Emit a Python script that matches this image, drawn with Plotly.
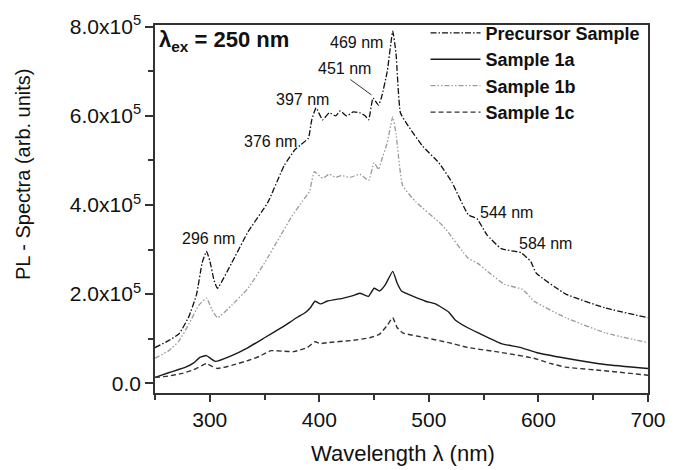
import plotly.graph_objects as go

# ---- data ----
wl_pre = [250, 262, 272, 281, 288, 293, 297, 300, 304, 307, 320, 335, 353, 368, 378, 383, 390, 393, 397,
          403, 409, 415, 419, 425, 431, 437, 442, 445, 449, 454, 457, 462, 467, 470, 474, 481, 494, 509,
          521, 536, 544, 553, 566, 584, 593, 598, 625, 661, 700]
pl_pre = [80000, 95000, 111000, 150000, 200000, 270000, 296000, 275000, 230000, 213000, 270000, 340000,
          406000, 489000, 525000, 535000, 550000, 590000, 618000, 591000, 607000, 600000, 611000, 600000,
          609000, 607000, 600000, 591000, 640000, 624000, 644000, 700000, 790000, 740000, 607000, 578000,
          533000, 495000, 451000, 378000, 369000, 333000, 302000, 293000, 273000, 247000, 200000, 169000,
          147000]

wl_1a = [250, 263, 278, 285, 291, 297, 301, 305, 320, 335, 350, 365, 380, 387, 392, 396, 401, 407, 422,
         430, 437, 441, 445, 450, 455, 460, 467, 471, 475, 497, 506, 518, 524, 535, 545, 566, 584, 598,
         625, 661, 700]
pl_1a = [13000, 24000, 36000, 45000, 58000, 62000, 55000, 49000, 62000, 80000, 102000, 124000, 148000,
         158000, 170000, 184000, 178000, 184000, 191000, 196000, 202000, 198000, 195000, 213000, 207000,
         220000, 251000, 225000, 207000, 184000, 178000, 160000, 142000, 125000, 113000, 89000, 80000,
         69000, 56000, 42000, 33000]

wl_1b = [250, 262, 272, 281, 290, 297, 302, 307, 320, 335, 350, 365, 375, 385, 391, 395.5, 403, 409,
         415, 420, 428, 437, 445, 450, 454, 457, 462, 467, 470, 476, 488, 509, 515, 536, 544.6, 553.6,
         569, 585, 590, 596, 625, 661, 700]
pl_1b = [56000, 72000, 95000, 133000, 175000, 191000, 165000, 147000, 175000, 213000, 270000, 333000,
         375000, 410000, 430000, 475000, 460000, 469000, 462000, 466000, 462000, 469000, 455000, 495000,
         480000, 502000, 540000, 598000, 560000, 444000, 407000, 362000, 347000, 280000, 269000, 251000,
         222000, 211000, 200000, 184000, 147000, 113000, 91000]

wl_1c = [250, 262, 275, 285, 297, 302, 307, 320, 335, 345, 356, 366, 377, 389, 396, 401, 407, 430, 446,
         455, 462, 467, 471, 476, 497, 518, 536, 566, 596, 610, 625, 660, 700]
pl_1c = [13000, 16000, 22000, 30000, 44000, 38000, 33000, 40000, 51000, 60000, 73000, 72000, 71000,
         80000, 93000, 89000, 91000, 96000, 102000, 110000, 130000, 147000, 125000, 113000, 102000, 91000,
         80000, 69000, 56000, 45000, 36000, 28000, 18000]

series_names = ["Precursor Sample", "Sample 1a", "Sample 1b", "Sample 1c"]

y_tickvals = [0, 200000, 400000, 600000, 800000]
y_ticktext = ["0.0", "2.0x10<sup>5</sup>", "4.0x10<sup>5</sup>", "6.0x10<sup>5</sup>", "8.0x10<sup>5</sup>"]
x_tickvals = [300, 400, 500, 600, 700]

peak_labels = ["296 nm", "376 nm", "397 nm", "451 nm", "469 nm", "544 nm", "584 nm"]
peak_label_x = [299, 355, 385, 423, 434, 570.5, 606.5]
peak_label_y = [325000, 543000, 637000, 707000, 764000, 384000, 313000]

FONT = "Liberation Sans, Arial, sans-serif"

fig = go.Figure()
styles = [
    dict(color="#111111", width=1.3, dash="6px,2px,1.5px,2px"),
    dict(color="#1a1a1a", width=1.4, dash="solid"),
    dict(color="#9a9a9a", width=1.3, dash="5px,2px,1.5px,2px,1.5px,2px"),
    dict(color="#333333", width=1.4, dash="5px,3px"),
]
data = [(wl_pre, pl_pre), (wl_1a, pl_1a), (wl_1b, pl_1b), (wl_1c, pl_1c)]
for i, ((x, y), name) in enumerate(zip(data, series_names)):
    fig.add_trace(go.Scatter(x=x, y=y, mode="lines", name=name,
                             line=dict(shape="spline", smoothing=0.4, **styles[i])))

for t, x, y in zip(peak_labels, peak_label_x, peak_label_y):
    fig.add_annotation(x=x, y=y, text=t, showarrow=False,
                       font=dict(family=FONT, size=16, color="#111"))
# leader line for 451 nm
fig.add_annotation(x=447.6, y=647000, ax=427, ay=684000, axref="x", ayref="y",
                   text="", showarrow=True, arrowhead=0, arrowwidth=1, arrowcolor="#333")

fig.add_annotation(xref="paper", yref="paper", x=0.004, y=1.0, xanchor="left", yanchor="top",
                   text="<b>λ<sub>ex</sub> = 250 nm</b>", showarrow=False,
                   font=dict(family=FONT, size=22, color="#111"))

# axis titles
fig.add_annotation(xref="paper", yref="paper", x=0, y=0.595, xshift=-132, textangle=-90,
                   xanchor="center", yanchor="middle", text="PL - Spectra (arb. units)", showarrow=False,
                   font=dict(family=FONT, size=20, color="#111"))
fig.add_annotation(xref="paper", yref="paper", x=0.504, y=0, yshift=-60,
                   xanchor="center", yanchor="middle", text="Wavelength λ (nm)", showarrow=False,
                   font=dict(family=FONT, size=22, color="#111"))

axis_common = dict(showgrid=False, zeroline=False, showline=True, linecolor="#333", linewidth=1.5,
                   mirror=True, ticks="outside", tickcolor="#333", tickwidth=1.5,
                   tickfont=dict(family=FONT, size=21, color="#111"))

fig.update_xaxes(range=[250, 700], tickvals=x_tickvals, ticklen=7,
                 minor=dict(ticks="outside", dtick=50, tick0=250, ticklen=5, tickcolor="#333", tickwidth=1.5),
                 **axis_common)
fig.update_yaxes(range=[-22000, 804000], tickvals=y_tickvals, ticktext=y_ticktext, ticklen=8,
                 minor=dict(ticks="outside", tickvals=[100000, 300000, 500000, 700000], ticklen=5,
                            tickcolor="#333", tickwidth=1.5),
                 **axis_common)

fig.update_layout(
    width=678, height=470, margin=dict(l=155, r=22, t=21, b=77),
    plot_bgcolor="white", paper_bgcolor="white",
    legend=dict(x=0.995, y=1.028, xanchor="right", yanchor="top", bgcolor="rgba(0,0,0,0)",
                font=dict(family=FONT, size=18, color="#111", weight="bold"),
                tracegroupgap=0, itemwidth=50),
)

fig.write_html("out.html")
